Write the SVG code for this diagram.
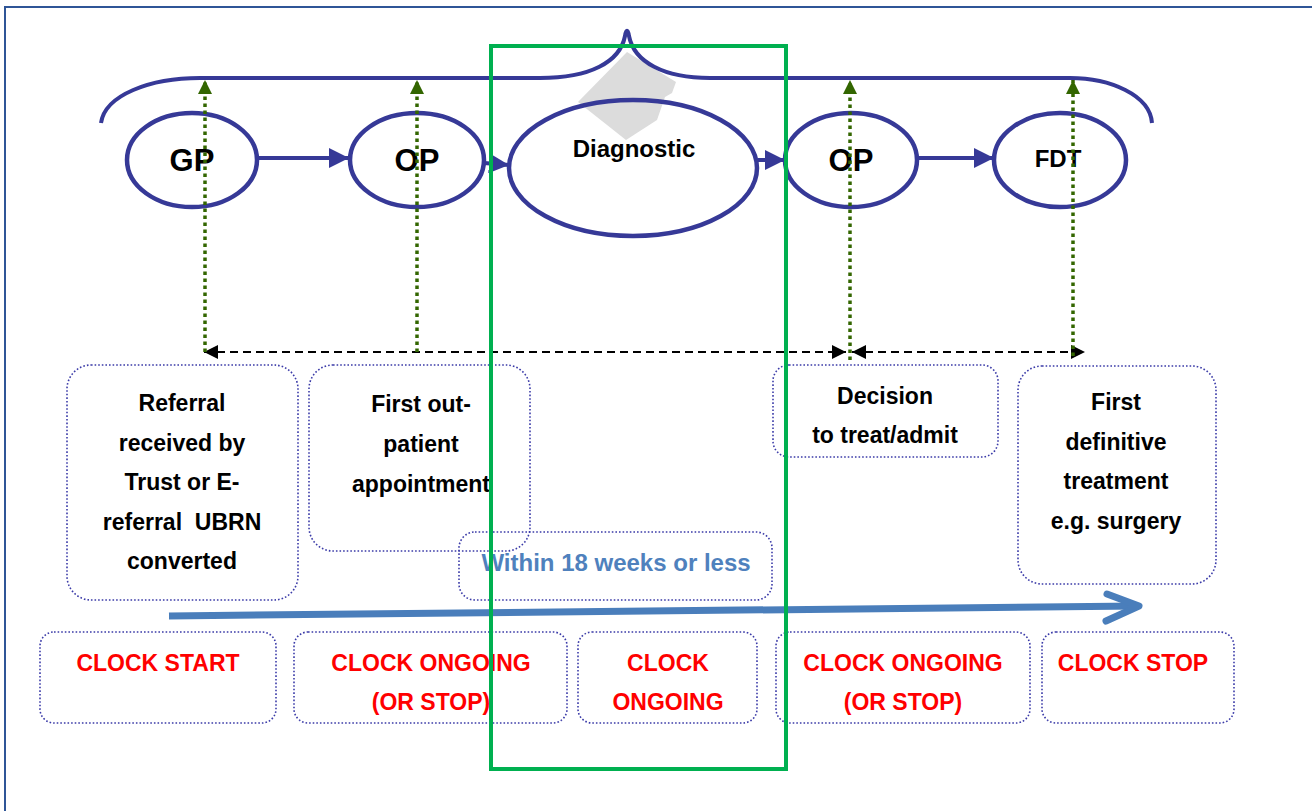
<svg xmlns="http://www.w3.org/2000/svg" width="1312" height="811" viewBox="0 0 1312 811">
<style>
.t{font-family:"Liberation Sans",Arial,sans-serif;font-weight:bold;text-anchor:middle;fill:#000}
.n{font-size:31px}
.b{font-size:23px}
.r{font-size:23px;fill:#ff0000}
.box{fill:none;stroke:#3b3ba8;stroke-width:1.6;stroke-dasharray:1.6 2}
.ell{fill:none;stroke:#363997;stroke-width:4.5}
.flow{stroke:#363997;stroke-width:4;fill:none}
.gd{stroke:#336600;stroke-width:3.5;stroke-dasharray:3.5 3.5;fill:none}
.bd{stroke:#000;stroke-width:2;stroke-dasharray:8 5;fill:none}
</style>
<defs>
<marker id="ab" viewBox="0 0 10 10" refX="10" refY="5" markerWidth="5" markerHeight="5" orient="auto" markerUnits="strokeWidth"><path d="M0,0 L10,5 L0,10 z" fill="#363997"/></marker>
<marker id="ag" viewBox="0 0 10 10" refX="10" refY="5" markerWidth="4.5" markerHeight="4" orient="auto" markerUnits="strokeWidth"><path d="M0,0 L10,5 L0,10 z" fill="#336600"/></marker>
<marker id="ak" viewBox="0 0 10 10" refX="10" refY="5" markerWidth="7" markerHeight="7" orient="auto-start-reverse" markerUnits="strokeWidth"><path d="M0,0 L10,5 L0,10 z" fill="#000"/></marker>
</defs>
<rect width="1312" height="811" fill="#fff"/>
<path d="M5,811 V7 H1312" fill="none" stroke="#2f5597" stroke-width="2"/>

<polygon points="627,52 676,82 672,93 665,97 657,120 626,140 578,102" fill="#dcdcdc"/>
<path d="M101,123 C105,95 150,78 200,78 H540 C590,78 620,62 625,36 C626,29 628,29 629,36 C634,62 664,78 710,78 H1070 C1110,78 1150,95 1152,123" class="flow" stroke-width="4.5"/>

<g id="connectors">
<line x1="258" y1="158" x2="349" y2="158" class="flow" marker-end="url(#ab)"/>
<line x1="484" y1="163" x2="509" y2="165" class="flow" marker-end="url(#ab)"/>
<line x1="758" y1="160" x2="785" y2="160" class="flow" marker-end="url(#ab)"/>
<line x1="917" y1="158" x2="994" y2="158" class="flow" marker-end="url(#ab)"/>
<line x1="204" y1="352" x2="846" y2="352" class="bd" marker-start="url(#ak)" marker-end="url(#ak)"/>
<line x1="852" y1="352" x2="1085" y2="352" class="bd" marker-start="url(#ak)" marker-end="url(#ak)"/>
<path d="M169,616 L1138,606" stroke="#4a7ebb" stroke-width="7" fill="none"/>
<path d="M1107,594 L1139,606 L1106,621" stroke="#4a7ebb" stroke-width="7" fill="none" stroke-linecap="round" stroke-linejoin="round"/>
</g>

<g id="gp"><ellipse cx="192" cy="160" rx="65" ry="47" class="ell"/><text x="192" y="171" class="t n">GP</text></g>
<g id="op1"><ellipse cx="417" cy="160" rx="67" ry="47" class="ell"/><text x="417" y="171" class="t n">OP</text></g>
<g id="diagnostic"><ellipse cx="633" cy="168" rx="124" ry="68" class="ell"/><text x="634" y="157" class="t" font-size="24">Diagnostic</text></g>
<g id="op2"><ellipse cx="851" cy="160" rx="66" ry="47" class="ell"/><text x="851" y="171" class="t n">OP</text></g>
<g id="fdt"><ellipse cx="1060" cy="160" rx="66" ry="47" class="ell"/><text x="1058" y="167" class="t" font-size="24">FDT</text></g>

<g id="milestones">
<line x1="205" y1="352" x2="205" y2="80" class="gd" marker-end="url(#ag)"/>
<line x1="417" y1="352" x2="417" y2="80" class="gd" marker-end="url(#ag)"/>
<line x1="850" y1="360" x2="850" y2="80" class="gd" marker-end="url(#ag)"/>
<line x1="1073" y1="356" x2="1073" y2="80" class="gd" marker-end="url(#ag)"/>
</g>

<g id="referral"><rect x="67" y="365" width="231" height="235" rx="24" class="box"/>
<text class="t b" xml:space="preserve"><tspan x="182" y="411">Referral</tspan><tspan x="182" y="451">received by</tspan><tspan x="182" y="490">Trust or E-</tspan><tspan x="182" y="530">referral  UBRN</tspan><tspan x="182" y="569">converted</tspan></text></g>
<g id="first-op"><rect x="309" y="365" width="221" height="186" rx="24" class="box"/>
<text class="t b"><tspan x="421" y="412">First out-</tspan><tspan x="421" y="452">patient</tspan><tspan x="421" y="492">appointment</tspan></text></g>
<g id="within"><rect x="459" y="532" width="313" height="68" rx="16" class="box"/>
<text x="616" y="571" class="t" font-size="24" style="fill:#4f81bd">Within 18 weeks or less</text></g>
<g id="decision"><rect x="773" y="365" width="225" height="92" rx="16" class="box"/>
<text class="t b"><tspan x="885" y="404">Decision</tspan><tspan x="885" y="443">to treat/admit</tspan></text></g>
<g id="first-treatment"><rect x="1018" y="366" width="198" height="218" rx="24" class="box"/>
<text class="t b"><tspan x="1116" y="410">First</tspan><tspan x="1116" y="450">definitive</tspan><tspan x="1116" y="489">treatment</tspan><tspan x="1116" y="529">e.g. surgery</tspan></text></g>

<g id="clock-start"><rect x="40" y="632" width="236" height="91" rx="14" class="box"/><text x="158" y="671" class="t r">CLOCK START</text></g>
<g id="clock-ongoing-1"><rect x="294" y="632" width="273" height="91" rx="14" class="box"/><text class="t r"><tspan x="431" y="671">CLOCK ONGOING</tspan><tspan x="431" y="710">(OR STOP)</tspan></text></g>
<g id="clock-ongoing"><rect x="578" y="632" width="179" height="91" rx="14" class="box"/><text class="t r"><tspan x="668" y="671">CLOCK</tspan><tspan x="668" y="710">ONGOING</tspan></text></g>
<g id="clock-ongoing-2"><rect x="776" y="632" width="254" height="91" rx="14" class="box"/><text class="t r"><tspan x="903" y="671">CLOCK ONGOING</tspan><tspan x="903" y="710">(OR STOP)</tspan></text></g>
<g id="clock-stop"><rect x="1042" y="632" width="192" height="91" rx="14" class="box"/><text x="1133" y="671" class="t r">CLOCK STOP</text></g>

<g id="highlight"><rect x="491" y="46" width="295" height="723" fill="none" stroke="#00b050" stroke-width="4"/></g>
</svg>
